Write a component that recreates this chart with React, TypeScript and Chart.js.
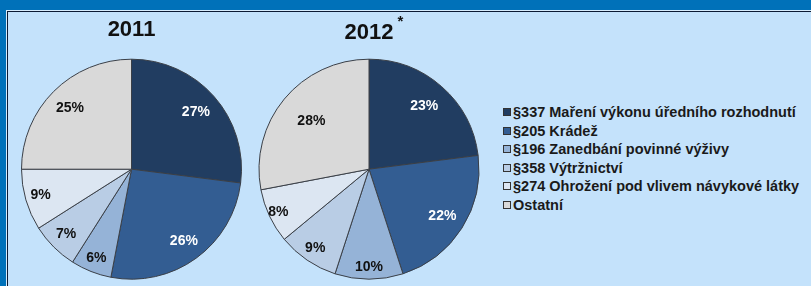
import React, { useEffect, useRef } from "react";
import { Chart, registerables } from "chart.js";

Chart.register(...registerables);

const categories = [
  "§337 Maření výkonu úředního rozhodnutí",
  "§205 Krádež",
  "§196 Zanedbání povinné výživy",
  "§358 Výtržnictví",
  "§274 Ohrožení pod vlivem návykové látky",
  "Ostatní",
];
const values2011 = [27, 26, 6, 7, 9, 25];
const values2012 = [23, 22, 10, 9, 8, 28];
const title2011 = "2011";
const title2012 = "2012";
const title2012Mark = "*";

const sliceColors = ["#213d61", "#335d92", "#95b3d7", "#b9cde5", "#dce6f2", "#d9d9d9"];
const labelColors = ["#ffffff", "#ffffff", "#111111", "#111111", "#111111", "#111111"];
// radial placement of the percentage labels (fraction of radius)
const labelRadius2011 = [0.78, 0.81, 0.87, 0.84, 0.86, 0.79];
const labelRadius2012 = [0.76, 0.79, 0.89, 0.87, 0.91, 0.68];

function makeLabelPlugin(radii: number[]) {
  return {
    id: "sliceLabels",
    afterDatasetsDraw(chart: any) {
      const ctx = chart.ctx;
      const meta = chart.getDatasetMeta(0);
      const data = chart.data.datasets[0].data;
      ctx.save();
      ctx.font = "bold 14px Arial, 'Liberation Sans', sans-serif";
      ctx.textAlign = "center";
      ctx.textBaseline = "middle";
      meta.data.forEach((arc: any, i: number) => {
        const { x, y, startAngle, endAngle, outerRadius } = arc.getProps(
          ["x", "y", "startAngle", "endAngle", "outerRadius"],
          true
        );
        const mid = (startAngle + endAngle) / 2;
        const r = outerRadius * radii[i];
        ctx.fillStyle = labelColors[i];
        ctx.fillText(data[i] + "%", x + Math.cos(mid) * r, y + Math.sin(mid) * r);
      });
      ctx.restore();
    },
  };
}

function makeConfig(values: number[], title: string, titleTopPad: number, mark: string | null, radii: number[]) {
  return {
    type: "pie" as const,
    data: {
      labels: categories,
      datasets: [
        {
          data: values,
          backgroundColor: sliceColors,
          borderColor: "#3a3f47",
          borderWidth: 1,
          radius: 110,
        },
      ],
    },
    options: {
      animation: false as const,
      responsive: false,
      events: [],
      layout: { padding: 0 },
      plugins: {
        legend: { display: false },
        tooltip: { enabled: false },
        title: {
          display: true,
          text: title,
          color: "#111111",
          font: { family: "Arial, 'Liberation Sans', sans-serif", size: 22, weight: "bold" as const },
          padding: { top: titleTopPad, bottom: 10 - (titleTopPad - 4) },
        },
      },
    },
    plugins: [
      makeLabelPlugin(radii),
      {
        id: "titleMark",
        afterDraw(chart: any) {
          if (!mark) return;
          const ctx = chart.ctx;
          const tb = chart.titleBlock;
          ctx.save();
          ctx.font = "bold 22px Arial, 'Liberation Sans', sans-serif";
          const w = ctx.measureText(title).width;
          const cx = (tb.left + tb.right) / 2;
          ctx.font = "bold 15px Arial, 'Liberation Sans', sans-serif";
          ctx.fillStyle = "#111111";
          ctx.textAlign = "left";
          ctx.textBaseline = "middle";
          ctx.fillText(mark, cx + w / 2 + 4, tb.top + titleTopPad + 2);
          ctx.restore();
        },
      },
    ],
  };
}

function PieCanvas({ values, title, left, width, topPad, mark, radii }: any) {
  const ref = useRef<HTMLCanvasElement | null>(null);
  useEffect(() => {
    if (!ref.current) return;
    const chart = new Chart(ref.current, makeConfig(values, title, topPad, mark, radii) as any);
    return () => chart.destroy();
  }, []);
  return (
    <canvas
      ref={ref}
      width={width}
      height={274}
      style={{ position: "absolute", left, top: 12, width, height: 274 }}
    />
  );
}

export default function App() {
  return (
    <div
      style={{
        position: "fixed",
        left: 0,
        top: 0,
        width: 811,
        height: 286,
        background: "#0071b9",
        overflow: "hidden",
      }}
    >
      <div
        style={{
          position: "absolute",
          left: 6,
          top: 10,
          width: 805,
          height: 276,
          background: "#d8ecfc",
        }}
      />
      <div
        style={{
          position: "absolute",
          left: 7,
          top: 11,
          width: 804,
          height: 275,
          background: "#c4e2fb",
          borderTop: "1px solid #0b1a33",
          borderLeft: "1px solid #0b1a33",
          boxSizing: "border-box",
        }}
      />
      <PieCanvas values={values2011} title={title2011} left={8} width={247} topPad={5} mark={null} radii={labelRadius2011} />
      <PieCanvas values={values2012} title={title2012} left={250} width={238} topPad={8} mark={title2012Mark} radii={labelRadius2012} />
      <div
        style={{
          position: "absolute",
          left: 503,
          top: 103,
          fontFamily: "Arial, 'Liberation Sans', sans-serif",
          fontWeight: "bold",
          fontSize: 14.5,
          color: "#1a1a1a",
        }}
      >
        {categories.map((c, i) => (
          <div key={c} style={{ display: "flex", alignItems: "center", height: 18.5, whiteSpace: "nowrap" }}>
            <span
              style={{
                display: "inline-block",
                width: 6,
                height: 6,
                background: sliceColors[i],
                border: "1px solid #333",
                marginRight: 2,
              }}
            />
            <span>{c}</span>
          </div>
        ))}
      </div>
    </div>
  );
}
